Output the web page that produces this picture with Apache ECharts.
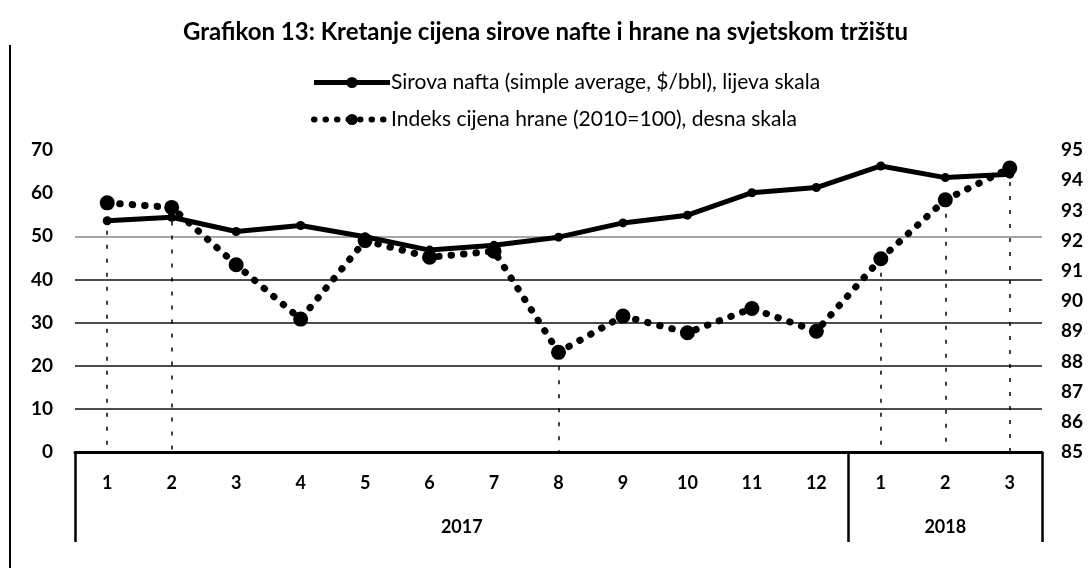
<!DOCTYPE html>
<html lang="hr">
<head>
    <meta charset="UTF-8">
    <script src="https://cdn.jsdelivr.net/npm/echarts@6/dist/echarts.min.js"></script>
    <title>Grafikon 13</title>
    <style>
        html, body {
            margin: 0;
            padding: 0;
            background: #fff;
        }

        #main {
            width: 1091px;
            height: 568px;
        }
    </style>
</head>

<body>
<div id="main"></div>
<script type="text/javascript">
    // mjeseci (2017: 1-12, 2018: 1-3)
    var months = ['1', '2', '3', '4', '5', '6', '7', '8', '9', '10', '11', '12', '1', '2', '3'];
    var years = ['2017', '2018'];
    var yearMid = [6, 13.5];       // sredina godine na osi 0-15
    var yearBounds = [0, 12, 15];

    // Sirova nafta, $/bbl (lijeva skala)
    var oil = [53.6, 54.4, 51.1, 52.5, 49.9, 46.8, 47.9, 49.8, 53.1, 54.9, 60.1, 61.3, 66.3, 63.6, 64.4];
    // Indeks cijena hrane, 2010=100 (desna skala)
    var food = [93.25, 93.1, 91.2, 89.4, 92.0, 91.45, 91.65, 88.3, 89.5, 88.95, 89.75, 89.0, 91.4, 93.35, 94.4];

    // isprekidane okomite linije na nekim mjesecima
    var dropIdx = [0, 1, 7, 12, 13, 14];

    var oilName = 'Sirova nafta (simple average, $/bbl), lijeva skala';
    var foodName = 'Indeks cijena hrane (2010=100), desna skala';

    var font = 'Lato, "Open Sans", sans-serif';
    var dots = [0.5, 12];

    var myChart = echarts.init(document.getElementById('main'));

    var option = {
        backgroundColor: '#fff',
        animation: false,
        textStyle: {fontFamily: font, color: '#000'},
        title: {
            text: 'Grafikon 13: Kretanje cijena sirove nafte i hrane na svjetskom tržištu',
            left: 'center',
            top: 15,
            textStyle: {fontFamily: font, fontSize: 24, fontWeight: 'bold', color: '#000'}
        },
        legend: {
            orient: 'vertical',
            left: 306,
            top: 67,
            itemGap: 16,
            itemWidth: 76,
            itemHeight: 14,
            textStyle: {fontFamily: font, fontSize: 21, color: '#000', padding: [0, 0, 0, -4]},
            data: [
                {name: oilName, lineStyle: {width: 5}},
                {name: foodName, lineStyle: {width: 6, type: [0.5, 11], cap: 'round'}}
            ]
        },
        graphic: [{
            type: 'line',
            shape: {x1: 10, y1: 45, x2: 10, y2: 568},
            style: {stroke: '#000', lineWidth: 2}
        }],
        grid: {left: 75, right: 49, top: 150, bottom: 116},
        xAxis: [{
            type: 'category',
            data: months,
            axisLine: {show: true, lineStyle: {color: '#000', width: 3}},
            axisTick: {show: false},
            axisLabel: {margin: 22, fontFamily: font, fontSize: 18, fontWeight: 'bold', color: '#000'}
        }, {
            type: 'value',
            position: 'bottom',
            min: 0,
            max: 15,
            axisLine: {show: false},
            splitLine: {show: false},
            axisTick: {
                show: true,
                length: 90,
                customValues: yearBounds,
                lineStyle: {color: '#000', width: 2.5}
            },
            axisLabel: {
                margin: 66,
                customValues: yearMid,
                fontFamily: font,
                fontSize: 18,
                fontWeight: 'bold',
                color: '#000',
                formatter: function (v) {
                    return v < 12 ? years[0] : years[1];
                }
            }
        }],
        yAxis: [{
            type: 'value',
            min: 0,
            max: 70,
            interval: 10,
            axisLine: {show: false},
            axisTick: {show: false},
            axisLabel: {margin: 22, fontFamily: font, fontSize: 19, fontWeight: 'bold', color: '#000'},
            splitLine: {
                show: true,
                lineStyle: {
                    width: 1.5,
                    color: ['rgba(0,0,0,0)', '#111', '#111', '#111', '#111', '#888', 'rgba(0,0,0,0)', 'rgba(0,0,0,0)']
                }
            }
        }, {
            type: 'value',
            min: 85,
            max: 95,
            interval: 1,
            axisLine: {show: false},
            axisTick: {show: false},
            splitLine: {show: false},
            axisLabel: {margin: 19, fontFamily: font, fontSize: 19, fontWeight: 'bold', color: '#000'}
        }],
        series: [{
            name: foodName,
            type: 'line',
            yAxisIndex: 1,
            data: food,
            symbol: 'circle',
            symbolSize: 15,
            itemStyle: {color: '#000'},
            lineStyle: {color: '#000', width: 7, type: dots, cap: 'round'},
            markLine: {
                silent: true,
                symbol: 'none',
                label: {show: false},
                lineStyle: {color: '#000', width: 1.5, type: [4, 10]},
                data: dropIdx.map(function (i) {
                    return [{coord: [i, food[i]]}, {coord: [i, 85]}];
                })
            },
            z: 2
        }, {
            name: oilName,
            type: 'line',
            yAxisIndex: 0,
            data: oil,
            symbol: 'circle',
            symbolSize: 9,
            itemStyle: {color: '#000'},
            lineStyle: {color: '#000', width: 5},
            z: 3
        }]
    };

    myChart.setOption(option);
</script>
</body>

</html>
